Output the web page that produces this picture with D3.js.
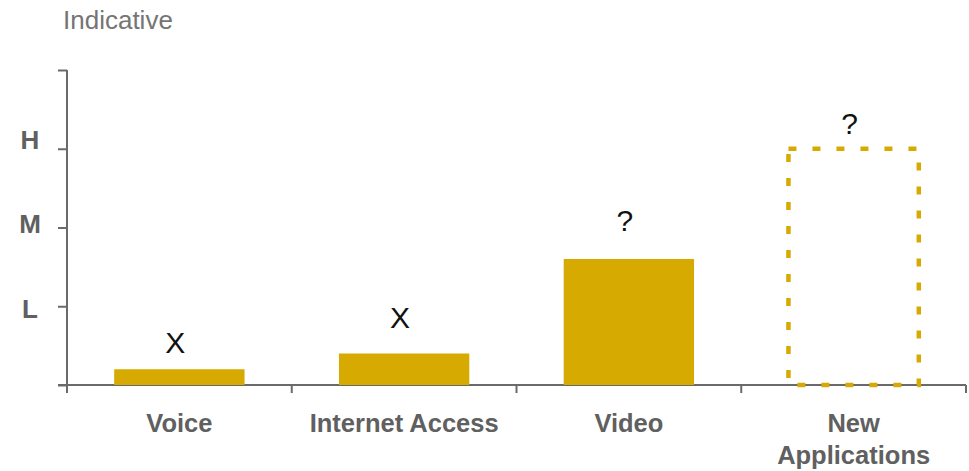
<!DOCTYPE html>
<html>
<head>
<meta charset="utf-8">
<script src="https://cdn.jsdelivr.net/npm/d3@7"></script>
<style>
  body { margin: 0; background: #fff; }
  svg { display: block; font-family: "Liberation Sans", Arial, sans-serif; }
</style>
</head>
<body>
<div id="chart"></div>
<script>
// data
const categories = ["Voice", "Internet Access", "Video", "New Applications"];
const values = [0.2, 0.4, 1.6, 3.0];
const dashed = [false, false, false, true];
const marks = ["X", "X", "?", "?"];
const markLevel = [0.41, 0.72, 1.96, 3.19];
const levelTicks = [0, 1, 2, 3, 4];
const levelLabels = ["", "L", "M", "H", ""];

const W = 969, H = 471;
const gold = "#d6aa00", axisCol = "#6a6a6a", labelCol = "#606060";

const svg = d3.select("#chart").append("svg")
  .attr("width", W).attr("height", H);

svg.append("text")
  .attr("x", 63).attr("y", 29)
  .attr("font-size", 26)
  .attr("fill", "#757575")
  .text("Indicative");

const x = d3.scaleBand()
  .domain(categories)
  .range([67, 966])
  .paddingInner(0.42)
  .paddingOuter(0.21);

const y = d3.scaleLinear()
  .domain([0, 4])
  .range([385, 70]);

// Y axis: ticks only, domain line drawn by hand so it runs past the x axis
const yAxis = svg.append("g")
  .attr("transform", "translate(67,0)")
  .call(d3.axisLeft(y).tickValues(levelTicks).tickSize(9).tickSizeOuter(0).tickFormat(""));
yAxis.select(".domain").remove();
yAxis.selectAll(".tick line").attr("stroke", axisCol).attr("stroke-width", 2);

svg.append("line")
  .attr("x1", 67).attr("x2", 67)
  .attr("y1", y(4)).attr("y2", y(0) + 8)
  .attr("stroke", axisCol).attr("stroke-width", 2);

// level labels sit a little apart from their ticks
const labelY = d3.scaleLinear().domain([1, 3]).range([y(1) + 2, y(3) - 9]);
svg.append("g").selectAll("text")
  .data(levelTicks.filter((d, i) => levelLabels[i]))
  .join("text")
  .attr("x", 30)
  .attr("y", d => labelY(d))
  .attr("dy", "0.36em")
  .attr("text-anchor", "middle")
  .attr("font-size", 26)
  .attr("font-weight", "bold")
  .attr("fill", labelCol)
  .text(d => levelLabels[levelTicks.indexOf(d)]);

// X axis
const xAxis = svg.append("g")
  .attr("transform", `translate(0,${y(0)})`)
  .call(d3.axisBottom(x).tickSize(0).tickSizeOuter(0));
xAxis.select(".domain").remove();
xAxis.selectAll(".tick text")
  .attr("y", 47)
  .attr("dy", null)
  .attr("font-size", 25.5)
  .attr("font-weight", "bold")
  .attr("font-family", "Liberation Sans, Arial, sans-serif")
  .attr("fill", labelCol)
  .each(function(d) {
    const words = d.split(" ");
    if (d === "New Applications") {
      const t = d3.select(this).text(null);
      words.forEach((w, i) => {
        t.append("tspan").attr("x", 0).attr("y", 47 + i * 32).text(w);
      });
    }
  });

svg.append("line")
  .attr("x1", 58).attr("x2", 966)
  .attr("y1", y(0)).attr("y2", y(0))
  .attr("stroke", axisCol).attr("stroke-width", 2);

// category boundary ticks
const bounds = d3.range(categories.length + 1).map(i => x.range()[0] + i * x.step());
svg.append("g").selectAll("line")
  .data(bounds.slice(1))
  .join("line")
  .attr("x1", d => d).attr("x2", d => d)
  .attr("y1", y(0)).attr("y2", y(0) + 8)
  .attr("stroke", axisCol).attr("stroke-width", 2);

// bars
const bars = categories.map((c, i) => ({ c, v: values[i], dashed: dashed[i], mark: marks[i], lv: markLevel[i] }));

svg.append("g").selectAll("rect")
  .data(bars)
  .join("rect")
  .attr("x", d => x(d.c))
  .attr("y", d => y(d.v))
  .attr("width", x.bandwidth())
  .attr("height", d => y(0) - y(d.v))
  .attr("fill", d => d.dashed ? "none" : gold)
  .attr("stroke", d => d.dashed ? gold : "none")
  .attr("stroke-width", 4.5)
  .attr("stroke-dasharray", d => d.dashed ? "8,16" : null);

svg.append("g").selectAll("text")
  .data(bars)
  .join("text")
  .attr("x", d => x(d.c) + x.bandwidth() / 2 - 4)
  .attr("y", d => y(d.lv))
  .attr("text-anchor", "middle")
  .attr("font-size", 30)
  .attr("fill", "#111")
  .text(d => d.mark);
</script>
</body>
</html>
